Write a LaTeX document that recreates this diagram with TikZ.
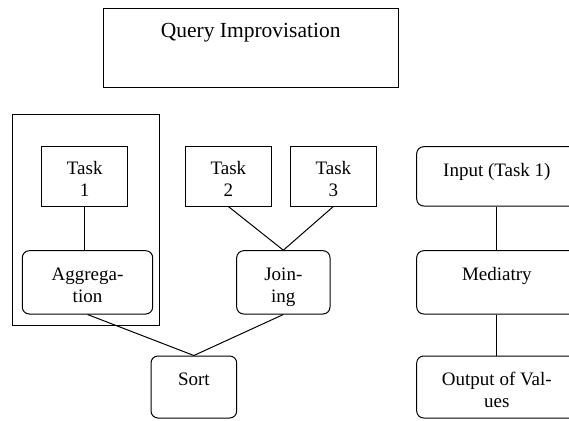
\documentclass[tikz,border=0pt]{standalone}
\usepackage{fontspec}
\setmainfont{Liberation Serif}
\begin{document}
\begin{tikzpicture}[x=1pt,y=-1pt,line width=1pt,
  txt/.style={anchor=base,yshift=-30pt,align=center,inner sep=0pt,
    font=\fontsize{19}{22}\selectfont},
  txttwo/.style={txt,yshift=-22pt},
  sqbox/.style={draw,rectangle,inner sep=0pt},
  rbox/.style={draw,rectangle,rounded corners=7pt,inner sep=0pt},
  wire/.style={draw}]
  \clip (0,0) rectangle (569,420);
  \useasboundingbox (0,0) rectangle (569,420);

  % header
  \node[sqbox,minimum width=295.3pt,minimum height=79pt,
        label={[txt,font=\fontsize{21.5}{24}\selectfont]north:Query Improvisation}] (query) at (250.7,47.8) {};

  % grouping frame around the first task
  \node[sqbox,minimum width=146.6pt,minimum height=211pt] (frame) at (86,219.5) {};

  % tasks
  \node[sqbox,minimum width=86pt,minimum height=59.3pt,
        label={[txttwo,yshift=2pt]north:Task\\1}] (task1) at (84.7,176.35) {};
  \node[sqbox,minimum width=85.3pt,minimum height=59.3pt,
        label={[txttwo,yshift=2pt]north:Task\\2}] (task2) at (228.35,176.35) {};
  \node[sqbox,minimum width=85.3pt,minimum height=59.3pt,
        label={[txttwo,yshift=2pt]north:Task\\3}] (task3) at (333.35,176.35) {};

  % operations
  \node[rbox,minimum width=130.4pt,minimum height=63.3pt,
        label={[txttwo]north:Aggrega-\\tion}] (agg) at (87.5,282.35) {};
  \node[rbox,minimum width=93.3pt,minimum height=63.3pt,
        label={[txttwo]north:Join-\\ing}] (join) at (283.35,282.35) {};
  \node[rbox,minimum width=85.7pt,minimum height=62pt,
        label={[txt]north:Sort}] (sort) at (193.85,387) {};

  % pipeline column
  \node[rbox,minimum width=160.3pt,minimum height=59.3pt,
        label={[txt]north:Input (Task 1)}] (input) at (496.85,176.35) {};
  \node[rbox,minimum width=160.3pt,minimum height=63.3pt,
        label={[txt]north:Mediatry}] (med) at (496.85,282.35) {};
  \node[rbox,minimum width=160.3pt,minimum height=62pt,
        label={[txttwo]north:Output of Val-\\ues}] (out) at (496.85,387) {};

  % connectors
  \draw[wire] (task1.south) -- (task1.south |- agg.north);
  \draw[wire] (task2.south) -- (join.north);
  \draw[wire] (task3.south) -- (join.north);
  \draw[wire] (agg.south) -- (sort.north);
  \draw[wire] (join.south) -- (sort.north);
  \draw[wire] (input.south) -- (med.north);
  \draw[wire] (med.south) -- (out.north);
\end{tikzpicture}
\end{document}
